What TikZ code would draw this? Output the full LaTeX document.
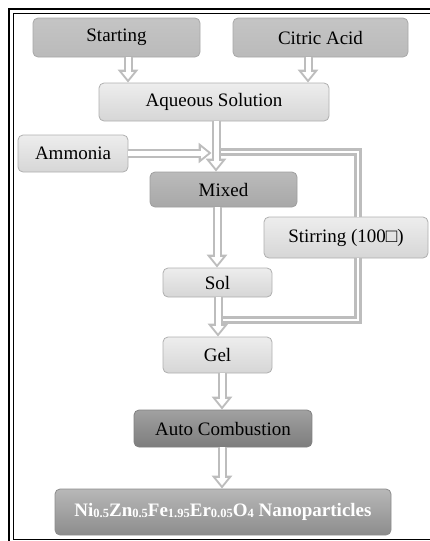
\documentclass[tikz,border=0pt]{standalone}
\usepackage{fontspec}
\setmainfont{Liberation Serif}
\usetikzlibrary{arrows.meta,calc}
\definecolor{agray}{HTML}{BDBDBD}
\definecolor{bdr}{HTML}{AFAFAF}
\tikzset{
  box/.style={draw=bdr, line width=0.8pt, rounded corners=5pt, inner sep=0pt,
    font=\fontsize{19}{22}\selectfont, text=black},
  lightbox/.style={box, top color=white!93!black, bottom color=white!84!black},
  startbox/.style={box, top color=white!77!black, bottom color=white!73!black, draw=white!66!black},
  midbox/.style={box, top color=white!73!black, bottom color=white!66!black, draw=white!62!black},
  autobox/.style={box, top color=white!63!black, bottom color=white!49!black, draw=white!50!black},
  finbox/.style={box, top color=white!72!black, bottom color=white!55!black, draw=white!55!black,
    text=white, font=\fontsize{19}{22}\selectfont\bfseries},
  arrout/.style={draw=agray, line width=9pt, -{Triangle[length=13pt,width=20pt]}},
  arrin/.style={draw=white, line width=5pt, shorten >=3.2pt, -{Triangle[length=7.2pt,width=11pt]}},
  pipe/.style={draw=agray, line width=2.4pt, double=white, double distance=2.6pt, line join=miter},
  frameline/.style={draw=black, line width=1.1pt}
}
\newcommand{\hollowarrow}[2]{%
  \draw[arrout] #1 -- #2;
  \draw[arrin] #1 -- #2;}
\newcommand{\lowidx}[1]{\raisebox{-1pt}{\fontsize{12.5}{13}\selectfont #1}}
\begin{document}
\begin{tikzpicture}[x=1pt,y=-1pt]
\useasboundingbox (0,0) rectangle (430,541);
\clip (0,0) rectangle (430,541);
% frame
\draw[frameline] (9,9) rectangle (470,580);
\draw[frameline, line width=0.9pt] (13,13) rectangle (466,539.5);
% nodes
\node[startbox, minimum width=167pt, minimum height=39pt] (start) at (116.5,37.5) {Starting};
\node[startbox, minimum width=175pt, minimum height=39pt] (citric) at (320.5,37.5) {Citric Acid};
\node[lightbox, minimum width=230pt, minimum height=38pt] (aq) at (214,102) {Aqueous Solution};
\node[lightbox, minimum width=110pt, minimum height=37pt] (amm) at (73,153.5) {Ammonia};
\node[midbox, minimum width=147pt, minimum height=35pt] (mixed) at (223.5,189.5) {Mixed};
\node[lightbox, minimum width=164pt, minimum height=41pt] (stir) at (346,237.5) {Stirring (100□)};
\node[lightbox, minimum width=109pt, minimum height=29pt] (sol) at (217.5,282.5) {Sol};
\node[lightbox, minimum width=109pt, minimum height=36pt] (gel) at (217.5,355) {Gel};
\node[autobox, minimum width=178pt, minimum height=37pt] (auto) at (223,428.5) {Auto Combustion};
\node[finbox, minimum width=336pt, minimum height=46pt] (fin) at (223,512)
  {Ni\lowidx{0.5}Zn\lowidx{0.5}Fe\lowidx{1.95}Er\lowidx{0.05}O\lowidx{4} Nanoparticles};
% helper coordinates
\coordinate (xs) at (128,0);
\coordinate (xc) at (308,0);
\coordinate (xa) at (216,0);
\coordinate (xm) at (217,0);
\coordinate (xg) at (218,0);
\coordinate (xf) at (222,0);
\coordinate (xp) at (358,0);
\coordinate (ya) at (0,153);
\coordinate (yb) at (0,320);
\coordinate (jl) at (211.5,153);
\coordinate (jr) at (220.5,152);
\coordinate (kr) at (222.5,320);
% pipes
\draw[pipe] (jr) -- (jr -| xp) -- (stir.north -| xp);
\draw[pipe] (stir.south -| xp) -- (yb -| xp) -- (kr);
% arrows
\hollowarrow{(start.south -| xs)}{(aq.north -| xs)}
\hollowarrow{(citric.south -| xc)}{(aq.north -| xc)}
\hollowarrow{(amm.east |- ya)}{(jl)}
\hollowarrow{(aq.south -| xa)}{(mixed.north -| xa)}
\hollowarrow{(mixed.south -| xm)}{(sol.north -| xm)}
\hollowarrow{(sol.south -| xg)}{(gel.north -| xg)}
\hollowarrow{(gel.south -| xf)}{(auto.north -| xf)}
\hollowarrow{(auto.south -| xf)}{(fin.north -| xf)}
\end{tikzpicture}
\end{document}
